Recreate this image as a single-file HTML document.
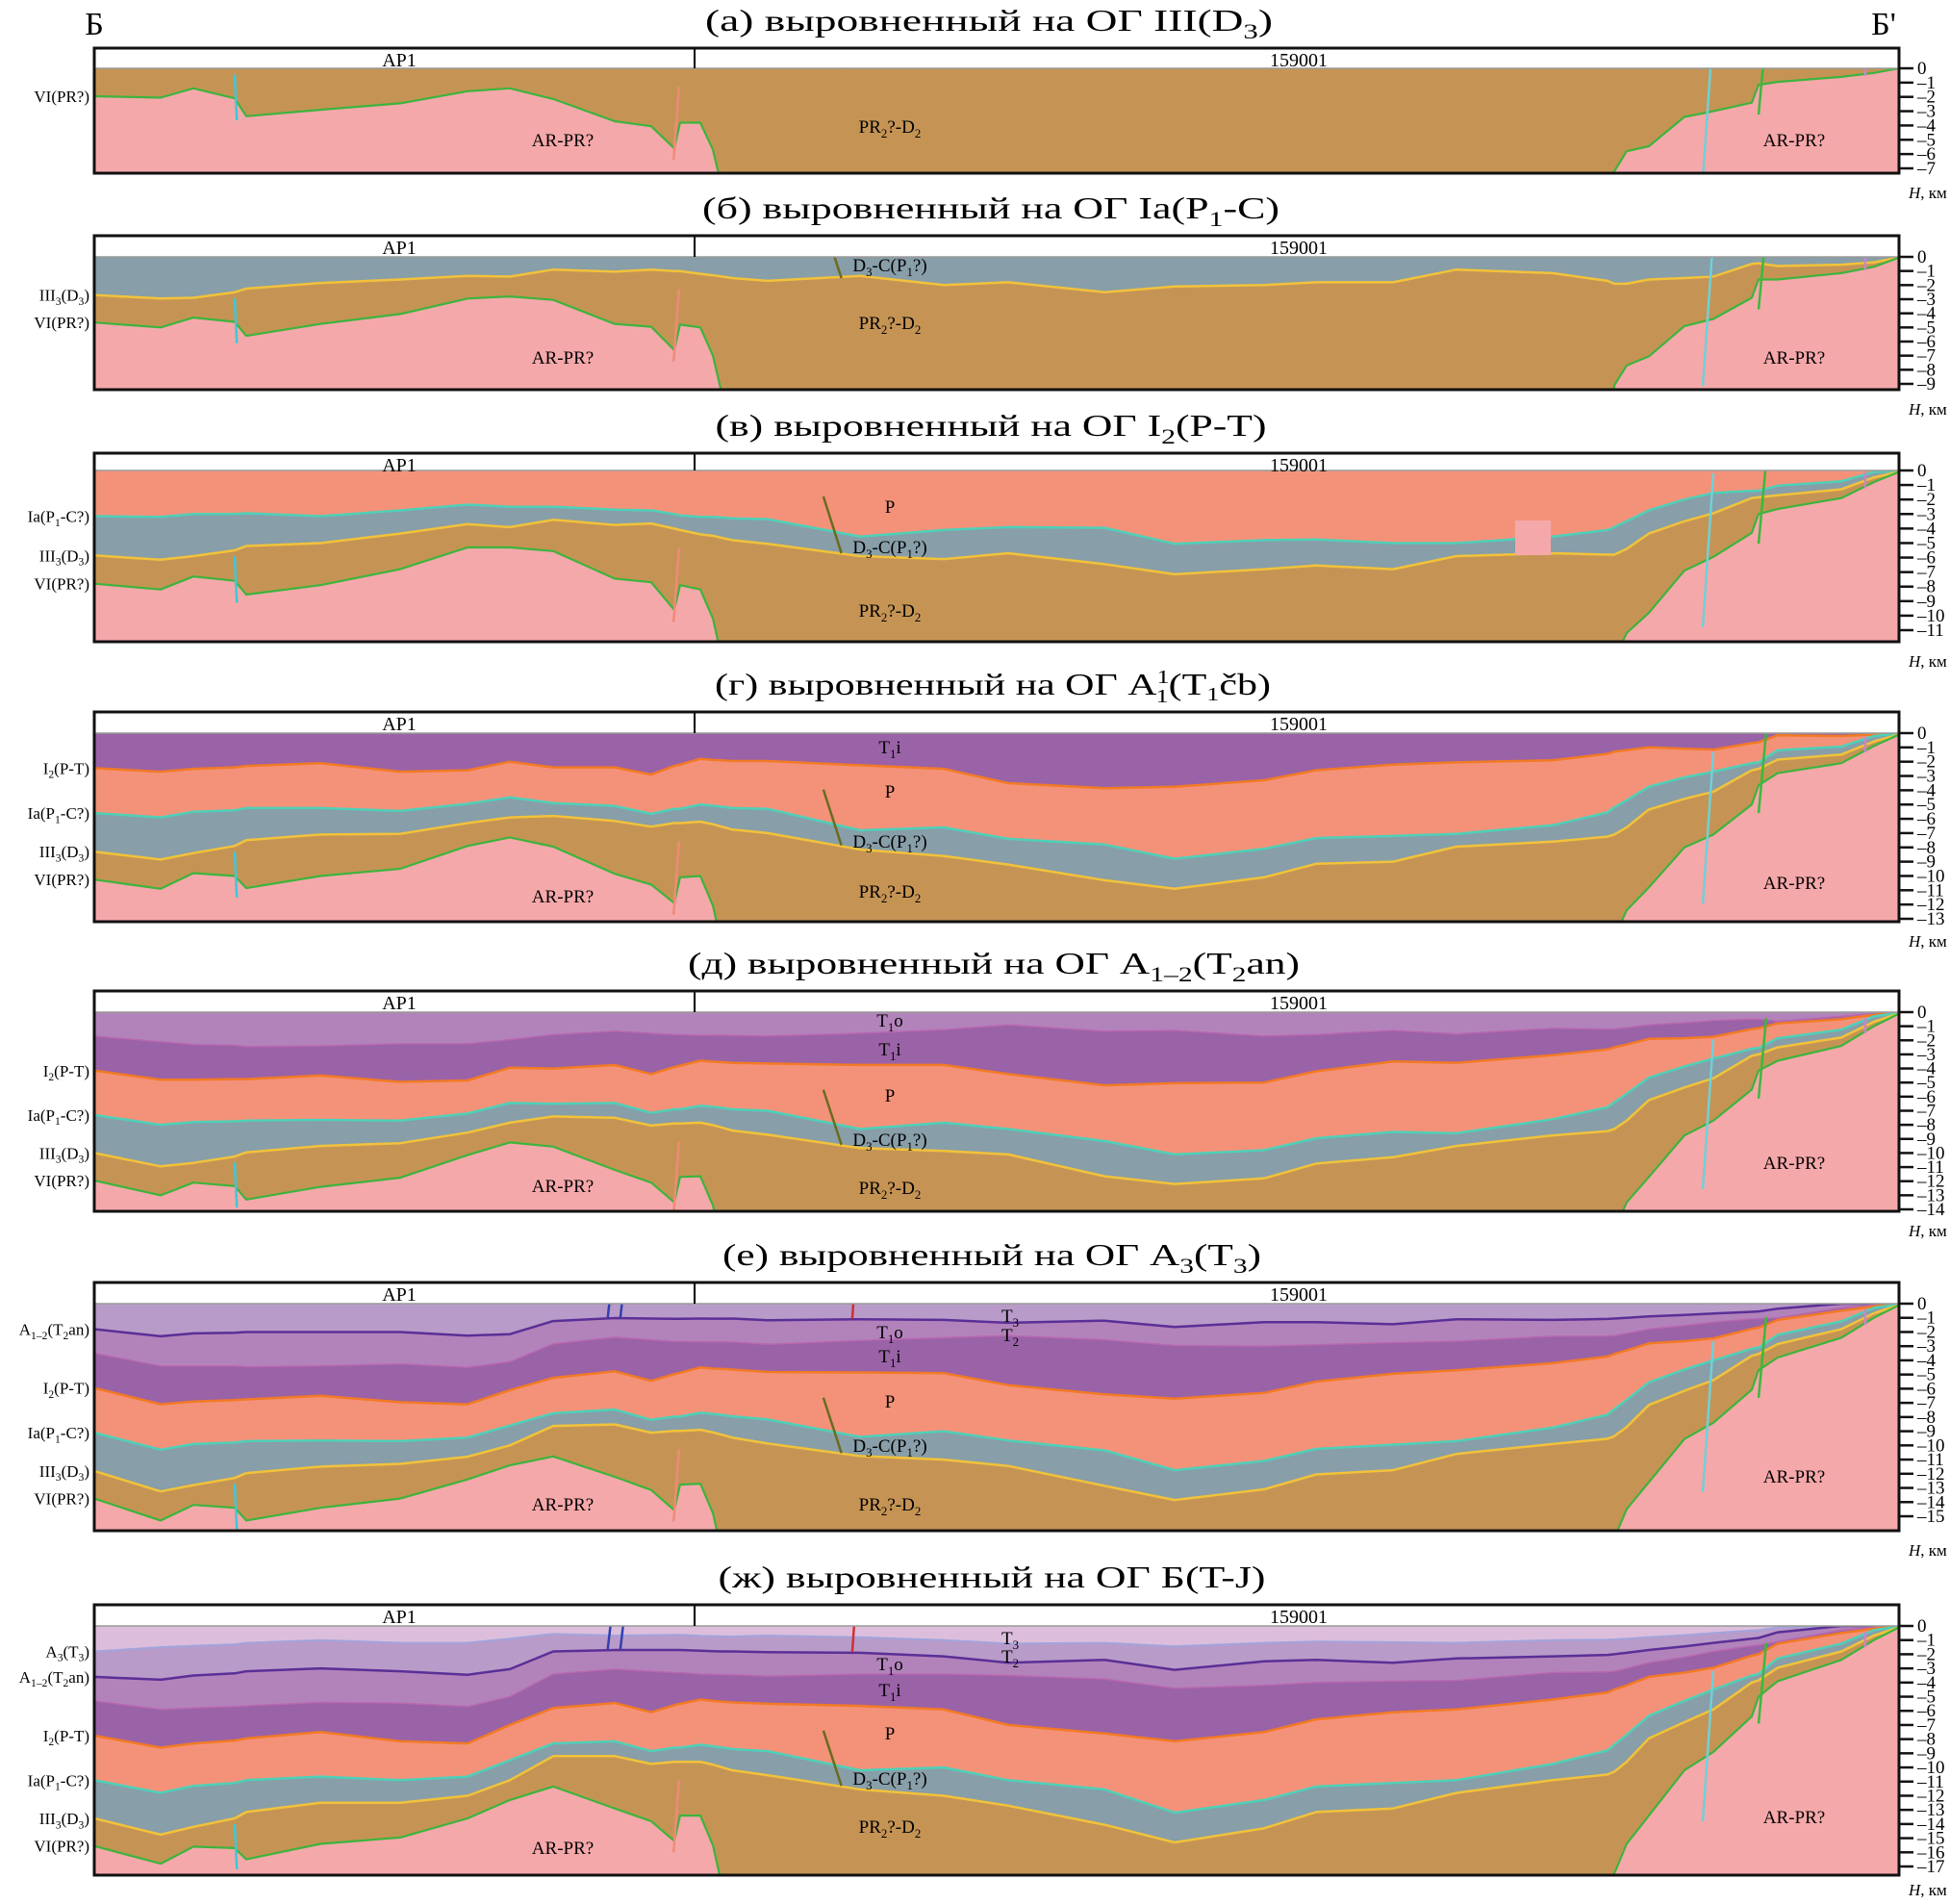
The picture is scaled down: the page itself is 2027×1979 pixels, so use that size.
<!DOCTYPE html>
<html><head><meta charset="utf-8">
<style>
html,body{margin:0;padding:0;background:#fff;width:2027px;height:1979px;overflow:hidden;}
svg{display:block;font-family:"Liberation Serif","DejaVu Serif",serif;}
</style></head>
<body>
<svg id="fig" xmlns="http://www.w3.org/2000/svg" width="2027" height="1979" viewBox="0 0 2027 1979">
<rect x="0" y="0" width="2027" height="1979" fill="#fff"/>
<text x="98" y="36" font-size="34" text-anchor="middle">Б</text>
<text x="1958" y="36" font-size="34" text-anchor="middle">Б'</text>
</svg>
<script>
// ---- profile stations (% of profile length) ----
const stationPct = [0,3.68,5.49,7.78,8.42,12.53,16.95,20.68,23.03,25.43,28.84,30.86,32.14,32.46,33.58,34.28,34.81,35.34,37.31,42.43,47.07,50.64,55.97,59.86,64.82,67.70,71.96,75.48,80.81,83.85,84.22,84.91,86.14,88.11,89.71,91.84,92.22,93.28,96.80,98.61,100];
// ---- horizon depths (km) in section flattened on Б(T-J) ----
const depthA3   = [1.8,1.5,1.4,1.3,1.2,1.0,1.2,1.2,0.9,0.57,0.68,0.65,0.63,0.63,0.7,0.72,0.74,0.75,0.68,0.8,1.0,1.25,1.2,1.45,1.2,1.1,1.15,1.2,1.0,0.97,0.95,0.9,0.8,0.65,0.5,0.32,0.3,0.1,0,0,0];
const depthA12  = [3.6,3.8,3.5,3.35,3.2,3.0,3.2,3.45,3.05,1.8,1.7,1.7,1.7,1.7,1.75,1.78,1.8,1.8,1.85,1.9,2.15,2.6,2.4,3.1,2.5,2.4,2.6,2.3,2.15,2.05,2.0,1.9,1.7,1.45,1.2,0.9,0.85,0.45,0,0,0];
const depthT1i  = [5.3,5.9,5.8,5.7,5.65,5.4,5.45,5.7,5.0,3.4,3.05,3.2,3.3,3.3,3.4,3.42,3.44,3.45,3.55,3.4,3.4,3.5,3.75,4.4,4.2,4.0,3.9,3.85,3.3,3.25,3.2,3.0,2.6,2.2,1.8,1.4,1.35,1.1,0.3,0.1,0];
const depthI2   = [7.75,8.6,8.3,8.1,7.95,7.5,8.15,8.3,7.0,5.8,5.45,6.1,5.6,5.5,5.2,5.3,5.35,5.4,5.5,5.65,5.9,7.0,7.6,8.15,7.5,6.6,6.1,5.9,5.2,4.7,4.5,4.2,3.6,3.3,2.95,2.1,2.0,1.25,0.5,0.2,0];
const depthIa   = [10.9,11.8,11.3,11.1,10.9,10.65,10.9,10.65,9.5,8.3,8.15,8.85,8.6,8.6,8.4,8.5,8.6,8.7,8.85,10.2,10.0,10.9,11.55,13.2,12.3,11.35,11.1,10.9,9.75,8.8,8.4,7.7,6.35,5.3,4.5,3.5,3.4,2.3,1.25,0.3,0.05];
const depthIII3 = [13.6,14.75,14.2,13.6,13.15,12.5,12.5,12.0,10.9,9.2,9.2,9.75,9.6,9.6,9.6,9.8,10.0,10.2,10.55,11.55,12.0,12.7,14.05,15.3,14.3,13.15,12.9,11.8,10.9,10.5,10.3,9.6,7.95,6.8,5.9,4.0,3.85,2.95,1.8,0.68,0.1];
const depthVI   = [15.55,16.8,15.6,15.7,16.5,15.4,14.95,13.6,12.3,11.35,12.9,13.8,15.2,13.4,13.4,15.5,18.5,30,30,30,30,30,30,30,30,30,30,30,30,30,17.5,15.4,13.4,10.2,8.9,6.4,5.0,3.9,2.4,1.0,0.1];
// ---- faults ----
const faultPctTop = [7.78,32.4,40.4,89.71,92.64,98.13,28.6,29.3,42.1];
const faultPctBot = [7.9,32.1,41.4,89.13,92.22,98.13,28.45,29.15,42.0];
const faultDepthTop = [14.0,10.9,7.4,3.2,1.2,0.4,0,0,0];
const faultDepthBot = [17.2,16.0,11.3,13.8,6.9,1.5,1.65,1.65,1.85];
const faultColors = ["#3cc8d8","#f08a78","#6b6b1e","#6fd0d8","#3cb83c","#d080d0","#3040b0","#3040b0","#d03030"];

const H = [depthA3,depthA12,depthT1i,depthI2,depthIa,depthIII3,depthVI];
const layerColors = ['#dcbedc','#b99bc9','#b283bb','#9a62a7','#f49279','#889ea8','#c59455','#f5a8aa'];
const lineColors  = ['#a2a4dc','#5b2f96','#b868b0','#f27a25','#4fd0b8','#f2c23a','#3db43d'];
const lineWidths  = [2,2.5,1.5,2.5,2.5,2.5,2.2];
const horizonLabels = ["A_3(T_3)","A_1_–_2(T_2an)","","I_2(P-T)","Ia(P_1-C?)","III_3(D_3)","VI(PR?)"];

const L = 98, R = 1974;
const panels = [
 {key:'a', top:50, tick0:71, bottom:180, tickN:7, tickLast:175, ref:5, title:"(а) выровненный на ОГ III(D_3)", tw:590, tx:1028,
  labels:[["AR-PR?",585,152],["PR_2?-D_2",925,138],["AR-PR?",1865,152]]},
 {key:'b', top:245, tick0:267, bottom:405, tickN:9, tickLast:399, ref:4, title:"(б) выровненный на ОГ Ia(P_1-C)", tw:600, tx:1030,
  labels:[["D_3-C(P_1?)",925,282],["PR_2?-D_2",925,342],["AR-PR?",585,378],["AR-PR?",1865,378]]},
 {key:'v', top:471, tick0:489, bottom:667, tickN:11, tickLast:655, ref:3, title:"(в) выровненный на ОГ I_2(P-T)", tw:573, tx:1030,
  labels:[["P",925,533],["D_3-C(P_1?)",925,575],["PR_2?-D_2",925,641]]},
 {key:'g', top:740, tick0:762, bottom:958, tickN:13, tickLast:955, ref:2, title:"G", tw:578, tx:1032,
  labels:[["T_1i",925,783],["P",925,829],["D_3-C(P_1?)",925,881],["PR_2?-D_2",925,933],["AR-PR?",585,938],["AR-PR?",1865,924]]},
 {key:'d', top:1030, tick0:1052, bottom:1259, tickN:14, tickLast:1257, ref:1, title:"(д) выровненный на ОГ A_1_–_2(T_2an)", tw:636, tx:1033,
  labels:[["T_1o",925,1067],["T_1i",925,1097],["P",925,1145],["D_3-C(P_1?)",925,1191],["PR_2?-D_2",925,1241],["AR-PR?",585,1239],["AR-PR?",1865,1215]]},
 {key:'e', top:1333, tick0:1355, bottom:1591, tickN:15, tickLast:1576, ref:0, title:"(е) выровненный на ОГ A_3(T_3)", tw:560, tx:1031,
  labels:[["T_3",1050,1374],["T_2",1050,1394],["T_1o",925,1391],["T_1i",925,1416],["P",925,1463],["D_3-C(P_1?)",925,1509],["PR_2?-D_2",925,1570],["AR-PR?",585,1570],["AR-PR?",1865,1541]]},
 {key:'zh', top:1668, tick0:1690, bottom:1949, tickN:17, tickLast:1940, ref:-1, title:"(ж) выровненный на ОГ Б(T-J)", tw:569, tx:1031,
  labels:[["T_3",1050,1709],["T_2",1050,1728],["T_1o",925,1736],["T_1i",925,1763],["P",925,1808],["D_3-C(P_1?)",925,1855],["PR_2?-D_2",925,1905],["AR-PR?",585,1927],["AR-PR?",1865,1895]]}
];
const leftLabelSets = {a:[6], b:[5,6], v:[4,5,6], g:[3,4,5,6], d:[3,4,5,6], e:[1,3,4,5,6], zh:[0,1,3,4,5,6]};

const NS = "http://www.w3.org/2000/svg";
const svg = document.getElementById('fig');
function mk(tag, attrs, parent){ const e = document.createElementNS(NS, tag); for (const k in attrs) e.setAttribute(k, attrs[k]); (parent||svg).appendChild(e); return e; }
function xS(p){ return L + p/100*(R-L); }
function interp(arr, p){
  for (let i=0;i<stationPct.length-1;i++){
    if (p<=stationPct[i+1]){ const t=(p-stationPct[i])/(stationPct[i+1]-stationPct[i]); return arr[i]+t*(arr[i+1]-arr[i]); }
  }
  return arr[arr.length-1];
}
// "_x" marks a subscript character
function richText(parent, s, size){
  const segs = [];
  for (let i=0;i<s.length;i++){
    let sub=false, ch=s[i];
    if (ch==='_' && i+1<s.length){ sub=true; ch=s[i+1]; i++; }
    if (segs.length && segs[segs.length-1].sub===sub) segs[segs.length-1].t += ch;
    else segs.push({sub:sub, t:ch});
  }
  let cur = 0;
  segs.forEach(sg=>{
    const target = sg.sub ? size*0.25 : 0;
    const attrs = {dy:(target-cur).toFixed(2)};
    if (sg.sub) attrs['font-size'] = (size*0.68).toFixed(1);
    const t = mk('tspan', attrs, parent);
    t.textContent = sg.t;
    cur = target;
  });
}

panels.forEach(P => {
  const g = mk('g', {});
  
  
  const ppk = (P.tickLast-P.tick0)/P.tickN;
  const yOf = d => P.tick0 + d*ppk;
  const refArr = P.ref>=0 ? H[P.ref] : stationPct.map(()=>0);
  // title
  const tt = mk('text', {x:P.tx, y:P.top-18, 'font-size':32, 'text-anchor':'middle', textLength:P.tw, lengthAdjust:'spacingAndGlyphs'}, g);
  
  
  if (P.title==="G"){
    const a=mk('tspan',{},tt); a.textContent="(г) выровненный на ОГ A";
    const s1=mk('tspan',{'font-size':20,dy:-12},tt); s1.textContent="1";
    const s2=mk('tspan',{'font-size':20,dx:-10,dy:20},tt); s2.textContent="1";
    const b=mk('tspan',{dy:-8},tt); b.textContent="(T";
    const s3=mk('tspan',{'font-size':20,dy:6},tt); s3.textContent="1";
    const c=mk('tspan',{dy:-6},tt); c.textContent="čb)";
  } else richText(tt, P.title, 32);
  // clip
  const cp = mk('clipPath', {id:'clip-'+P.key}, g);
  mk('rect', {x:L, y:P.tick0, width:R-L, height:P.bottom-P.tick0}, cp);
  const body = mk('g', {'clip-path':'url(#clip-'+P.key+')'}, g);
  const top = mk('rect', {x:L, y:P.tick0, width:R-L, height:P.bottom-P.tick0, fill:layerColors[P.ref+1]}, body);
  
  
  for (let h=P.ref+1; h<H.length; h++){
    const pts = stationPct.map((p,i)=> xS(p).toFixed(1)+','+yOf(H[h][i]-refArr[i]).toFixed(1));
    const poly = mk('polygon', {points: pts.join(' ')+' '+R+','+(P.bottom+5)+' '+L+','+(P.bottom+5), fill:layerColors[h+1]}, body);
    
    
  }
  for (let h=P.ref+1; h<H.length; h++){
    const pts = stationPct.map((p,i)=> xS(p).toFixed(1)+','+yOf(H[h][i]-refArr[i]).toFixed(1));
    const pl = mk('polyline', {points: pts.join(' '), fill:'none', stroke:lineColors[h], 'stroke-width':lineWidths[h], 'stroke-linejoin':'round'}, body);
    
    
  }
  if (P.key==='v'){
    const pr = mk('rect',{x:1575,y:541,width:37,height:36,fill:'#f5a8aa'}, body);
    
    
  }
  // faults
  faultPctTop.forEach((p0,k)=>{
    const ref = P.ref>=0 ? interp(refArr, (p0+faultPctBot[k])/2) : 0;
    const fl = mk('line', {x1:xS(p0), y1:yOf(faultDepthTop[k]-ref), x2:xS(faultPctBot[k]), y2:yOf(faultDepthBot[k]-ref), stroke:faultColors[k], 'stroke-width':2.5}, body);
    
    
  });
  // layer labels
  P.labels.forEach(lb=>{
    const t = mk('text', {x:lb[1], y:lb[2], 'font-size':19, 'text-anchor':'middle'}, g);
    
    
    richText(t, lb[0], 19);
  });
  // header band
  const hb = mk('rect', {x:L, y:P.top, width:R-L, height:P.tick0-P.top, fill:'#fff'}, g);
  
  
  mk('line', {x1:L, y1:P.tick0, x2:R, y2:P.tick0, stroke:'#999', 'stroke-width':1.5}, g);
  mk('line', {x1:722, y1:P.top, x2:722, y2:P.tick0, stroke:'#000', 'stroke-width':2}, g);
  const w1 = mk('text', {x:415, y:P.top+19, 'font-size':20, 'text-anchor':'middle'}, g);
  
  
  w1.textContent = 'AP1';
  const w2 = mk('text', {x:1350, y:P.top+19, 'font-size':20, 'text-anchor':'middle'}, g);
  
  
  w2.textContent = '159001';
  const fr = mk('rect', {x:L, y:P.top, width:R-L, height:P.bottom-P.top, fill:'none', stroke:'#111', 'stroke-width':3}, g);
  
  
  // right axis
  for (let k=0;k<=P.tickN;k++){
    const y = yOf(k);
    mk('line', {x1:R, y1:y, x2:R+15, y2:y, stroke:'#111', 'stroke-width':2.5}, g);
    const tl = mk('text', {x:R+19, y:y+6, 'font-size':19}, g);
    
    
    tl.textContent = k===0 ? '0' : '–'+k;
  }
  const at = mk('text', {x:R+10, y:Math.min(P.bottom+26, 1970), 'font-size':17}, g);
  
  
  const hi = mk('tspan', {'font-style':'italic'}, at); hi.textContent='H';
  const hk = mk('tspan', {}, at); hk.textContent=', км';
  // left horizon labels
  leftLabelSets[P.key].forEach(h=>{
    const y = yOf(H[h][0]-refArr[0]) + 6;
    const t = mk('text', {x:93, y:y, 'font-size':17, 'text-anchor':'end'}, g);
    
    
    richText(t, horizonLabels[h], 17);
  });
});
</script>
</body></html>
